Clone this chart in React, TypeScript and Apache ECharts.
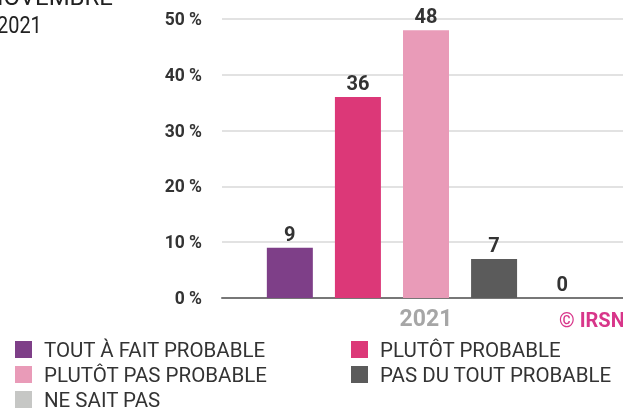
import React, { useEffect, useRef } from "react";
import * as echarts from "echarts";

const categories = ["2021"];
const seriesNames = [
  "TOUT À FAIT PROBABLE",
  "PLUTÔT PROBABLE",
  "PLUTÔT PAS PROBABLE",
  "PAS DU TOUT PROBABLE",
  "NE SAIT PAS",
];
const seriesValues = [9, 36, 48, 7, 0];
const seriesColors = ["#7e3f88", "#dc3878", "#e99bb8", "#5b5b5b", "#c6c7c5"];
const legendLeftCol = ["TOUT À FAIT PROBABLE", "PLUTÔT PAS PROBABLE", "NE SAIT PAS"];
const legendRightCol = ["PLUTÔT PROBABLE", "PAS DU TOUT PROBABLE"];

const FONT = "Roboto, 'Noto Sans', sans-serif";

export default function App() {
  const ref = useRef<HTMLDivElement>(null);
  useEffect(() => {
    if (!ref.current) return;
    const chart = echarts.init(ref.current, undefined, { renderer: "svg" });
    const legendBase = {
      orient: "vertical" as const,
      top: 339,
      height: 100,
      padding: 0,
      itemWidth: 17,
      itemHeight: 17,
      itemGap: 4,
      icon: "rect",
      selectedMode: false,
      textStyle: {
        fontFamily: FONT,
        fontSize: 20.5,
        color: "#333",
        lineHeight: 17,
        padding: [0, 0, 0, 7],
      },
    };
    chart.setOption({
      animation: false,
      textStyle: { fontFamily: FONT },
      grid: {
        left: 222,
        right: -7,
        top: 19,
        bottom: 110,
        containLabel: false,
        outerBoundsMode: "none",
      },
      legend: [
        { ...legendBase, left: 15, data: legendLeftCol },
        { ...legendBase, left: 351, data: legendRightCol },
      ],
      xAxis: {
        type: "category",
        data: categories,
        axisTick: { show: false },
        axisLine: { show: true, lineStyle: { color: "#777", width: 2 } },
        axisLabel: {
          color: "#a6a6a6",
          fontSize: 23,
          fontWeight: "bold",
          fontFamily: FONT,
          margin: 9,
        },
      },
      yAxis: {
        type: "value",
        min: 0,
        max: 50,
        interval: 10,
        axisLine: { show: false },
        axisTick: { show: false },
        splitLine: { lineStyle: { color: "#e2e2e2", width: 2 } },
        axisLabel: {
          formatter: "{value} %",
          color: "#333",
          fontSize: 17.5,
          fontWeight: "bold",
          fontFamily: FONT,
          margin: 20,
        },
      },
      series: seriesNames.map((name, i) => ({
        name,
        type: "bar",
        data: [seriesValues[i]],
        barWidth: 46,
        barGap: "48%",
        itemStyle: { color: seriesColors[i] },
        label: {
          show: true,
          position: "top",
          distance: 4,
          color: "#333",
          fontSize: 20,
          fontWeight: "bold",
          fontFamily: FONT,
        },
      })),
      graphic: [
        {
          type: "text",
          x: 113,
          y: -3,
          style: {
            text: "NOVEMBRE",
            fontSize: 24,
            fontFamily: FONT,
            fill: "#222",
            align: "right",
            verticalAlign: "middle",
          },
        },
        {
          type: "text",
          x: -3,
          y: 24.5,
          scaleX: 0.83,
          style: {
            text: "2021",
            fontSize: 24,
            fontFamily: FONT,
            fill: "#222",
            align: "left",
            verticalAlign: "middle",
          },
        },
        {
          type: "text",
          x: 559,
          y: 319.5,
          style: {
            text: "© IRSN",
            fontSize: 20,
            fontWeight: "bold",
            fontFamily: FONT,
            fill: "#d8368a",
            align: "left",
            verticalAlign: "middle",
          },
        },
      ],
    });
    return () => chart.dispose();
  }, []);
  return <div ref={ref} style={{ width: 623, height: 408, position: "fixed", left: 0, top: 0 }} />;
}
